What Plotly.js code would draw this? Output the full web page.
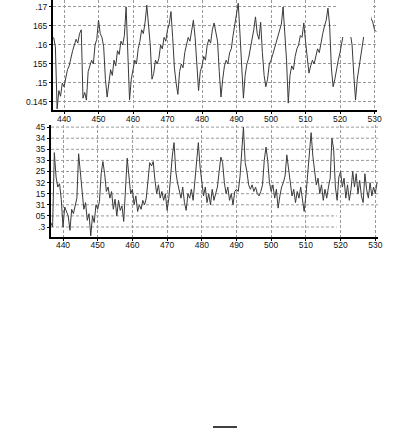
<!DOCTYPE html>
<html>
<head>
<meta charset="utf-8">
<script src="https://cdn.plot.ly/plotly-3.0.1.min.js"></script>
<style>html,body{margin:0;padding:0;background:#fff;}#chart{width:396px;height:428px;}</style>
</head>
<body>
<div id="chart"></div>
<script>
// Top panel: values sampled every 0.5 from x = 437
const topStart = 437;
const topValues = [
0.1620,0.1595,0.1432,0.1480,0.1465,0.1500,0.1490,0.1510,0.1535,0.1545,
0.1570,0.1585,0.1600,0.1615,0.1605,0.1630,0.1640,0.1460,0.1475,0.1455,
0.1530,0.1545,0.1560,0.1550,0.1600,0.1615,0.1665,0.1630,0.1620,0.1595,
0.1510,0.1463,0.1500,0.1535,0.1520,0.1560,0.1545,0.1585,0.1575,0.1610,
0.1600,0.1625,0.1700,0.1560,0.1455,0.1510,0.1540,0.1560,0.1550,0.1590,
0.1610,0.1640,0.1630,0.1660,0.1705,0.1655,0.1600,0.1510,0.1525,0.1560,
0.1550,0.1565,0.1600,0.1590,0.1620,0.1610,0.1640,0.1655,0.1688,0.1620,
0.1540,0.1500,0.1470,0.1530,0.1550,0.1540,0.1580,0.1600,0.1620,0.1610,
0.1640,0.1665,0.1620,0.1540,0.1480,0.1530,0.1545,0.1570,0.1560,0.1600,
0.1615,0.1605,0.1640,0.1658,0.1630,0.1610,0.1530,0.1463,0.1510,0.1545,
0.1560,0.1550,0.1580,0.1590,0.1625,0.1650,0.1680,0.1710,0.1630,0.1540,
0.1460,0.1520,0.1550,0.1565,0.1590,0.1610,0.1640,0.1674,0.1630,0.1615,
0.1660,0.1580,0.1520,0.1490,0.1510,0.1550,0.1560,0.1575,0.1590,0.1605,
0.1620,0.1640,0.1655,0.1700,0.1640,0.1560,0.1447,0.1520,0.1545,0.1535,
0.1570,0.1590,0.1600,0.1625,0.1620,0.1658,0.1610,0.1570,0.1526,0.1545,
0.1560,0.1550,0.1575,0.1590,0.1580,0.1610,0.1630,0.1650,0.1665,0.1697,
0.1650,0.1540,0.1490,0.1510,0.1540,0.1560,0.1580,0.1610,0.1630,0.1650,
0.1640,0.1660,0.1630,0.1600,0.1520,0.1455,0.1510,0.1540,0.1570,0.1600,
0.1640,0.1660,0.1680,0.1690,0.1670,0.1660,0.1640,0.1635
];

// Bottom panel: values (tick index units) sampled every 0.5 from x = 436.5
const bottomStart = 436.5;
const bottomValues = [
0.4,0.0,6.7,4.5,3.6,3.9,2.5,0.0,1.8,1.4,
1.0,-0.3,1.6,1.2,1.8,2.6,6.6,5.0,3.0,1.6,
2.2,0.6,1.2,-0.8,1.0,0.4,2.0,1.6,2.3,4.8,
5.9,4.8,3.2,3.6,2.6,3.2,1.6,2.5,1.0,2.4,
1.5,1.9,0.5,3.8,6.2,4.6,3.0,3.4,2.0,2.8,
1.4,2.0,1.6,2.4,2.0,2.6,4.5,5.8,5.5,5.9,
4.2,3.0,3.8,2.6,3.2,2.4,3.0,1.5,2.6,4.6,
6.4,7.6,5.0,4.0,3.4,2.6,3.6,2.2,1.5,3.0,
2.6,3.4,2.4,4.0,6.0,7.6,5.4,3.8,2.8,3.6,
2.2,3.0,2.0,3.4,2.4,3.0,3.6,5.0,6.3,5.8,
4.0,3.0,3.6,2.4,3.0,2.0,3.2,3.4,3.2,4.5,
7.2,9.0,5.8,5.0,3.8,3.4,3.8,3.2,3.6,3.0,
2.8,3.2,3.8,6.0,7.2,6.0,4.0,3.2,3.8,2.6,
3.4,1.7,2.8,3.6,4.0,4.6,6.5,5.2,3.6,2.8,
3.4,2.2,3.2,2.6,3.6,2.4,1.4,2.8,4.5,6.6,
8.5,6.4,5.0,3.8,4.4,3.0,3.8,2.4,3.4,2.6,
3.6,4.4,8.0,7.0,3.6,2.4,4.5,5.0,3.6,4.4,
2.6,3.8,2.4,3.4,5.0,3.6,4.8,3.0,4.2,2.8,
2.2,4.8,3.4,2.6,4.0,2.8,3.6,3.0,4.0
];

const xTickVals = [440,450,460,470,480,490,500,510,520,530];
const xTickText = ['440','450','460','470','480','490','500','510','520','530'];
const topTickVals = [0.145,0.15,0.155,0.16,0.165,0.17];
const topTickText = ['0.145','.15','155','.16','165','.17'];
const bottomTickVals = [0,1,2,3,4,5,6,7,8,9];
const bottomTickText = ['.3','05','31','15','32','25','33','35','34','45'];

const font = {family: 'Liberation Sans, Arial, sans-serif', size: 8.5, color: '#111'};
const gridColor = '#9a9a9a';

const traces = [
  {x0: topStart, dx: 0.5, y: topValues, type: 'scatter', mode: 'lines',
   line: {color: '#3a3a3a', width: 1}, xaxis: 'x', yaxis: 'y', hoverinfo: 'none'},
  {x0: bottomStart, dx: 0.5, y: bottomValues, type: 'scatter', mode: 'lines',
   line: {color: '#3a3a3a', width: 1}, xaxis: 'x2', yaxis: 'y2', hoverinfo: 'none'}
];

const shapes = [];
// white box hiding top-right corner of upper panel
shapes.push({type: 'rect', xref: 'x', yref: 'y', x0: 518.9, x1: 529.0, y0: 0.1621, y1: 0.1725,
  fillcolor: '#fff', line: {width: 0}, layer: 'above'});
// horizontal gridlines of lower panel
bottomTickVals.forEach(v => {
  shapes.push({type: 'line', xref: 'x2', yref: 'y2', x0: 436.54, x1: v < 2 ? 518.9 : 530.78, y0: v, y1: v,
    line: {color: gridColor, width: 1, dash: '3px,2px'}, layer: 'below'});
});
// small stray mark at the bottom
shapes.push({type: 'line', xref: 'paper', yref: 'paper', x0: 213/396, x1: 237/396, y0: 1 - 427/428, y1: 1 - 427/428,
  line: {color: '#000', width: 1.5}});

const axCommon = {
  showline: true, linecolor: '#000', linewidth: 2, mirror: false,
  ticks: 'outside', ticklen: 2, tickcolor: '#000', tickwidth: 1,
  gridcolor: gridColor, griddash: '3px,2px', gridwidth: 1,
  zeroline: false, tickfont: font, fixedrange: true
};

const layout = {
  width: 396, height: 428,
  margin: {l: 0, r: 0, t: 0, b: 0},
  paper_bgcolor: '#fff', plot_bgcolor: '#fff',
  showlegend: false,
  font: font,
  xaxis: Object.assign({}, axCommon, {domain: [53/396, 377/396], range: [436.81, 530.72],
    tickvals: xTickVals, ticktext: xTickText, anchor: 'y', ticklabelstandoff: -2}),
  yaxis: Object.assign({}, axCommon, {domain: [1 - 110/428, 1], range: [0.14289, 0.17184],
    tickvals: topTickVals, ticktext: topTickText, anchor: 'x'}),
  xaxis2: Object.assign({}, axCommon, {domain: [51/396, 378/396], range: [436.54, 530.78],
    tickvals: xTickVals, ticktext: xTickText, anchor: 'y2', ticklabelstandoff: -3}),
  yaxis2: Object.assign({}, axCommon, {domain: [1 - 237/428, 1 - 125/428], range: [-0.9, 9.19],
    tickvals: bottomTickVals, ticktext: bottomTickText, anchor: 'x2', showgrid: false}),
  shapes: shapes
};

Plotly.newPlot('chart', traces, layout, {staticPlot: true, displayModeBar: false});
</script>
</body>
</html>
